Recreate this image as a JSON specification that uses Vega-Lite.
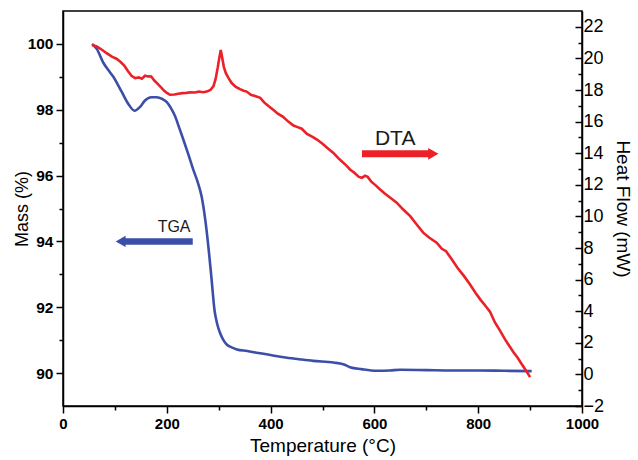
{
  "$schema": "https://vega.github.io/schema/vega-lite/v6.json",
  "width": 519,
  "height": 395,
  "autosize": {"type": "none"},
  "padding": {"left": 63, "top": 11, "right": 56, "bottom": 54},
  "config": {
    "view": {"stroke": "#000", "strokeWidth": 1.5},
    "axis": {"grid": false, "domainColor": "#000", "domainWidth": 1.5, "tickColor": "#000", "tickWidth": 1.5, "labelColor": "#000", "titleColor": "#000", "labelFont": "Liberation Sans", "titleFont": "Liberation Sans", "titleFontWeight": "normal", "labelOverlap": false, "labelFlush": false},
    "text": {"font": "Liberation Sans"}
  },
  "datasets": {
    "tga": [
      {"T": 56, "mass": 100.0}, {"T": 65, "mass": 99.85}, {"T": 78, "mass": 99.42}, {"T": 90, "mass": 99.15},
      {"T": 97, "mass": 99.0}, {"T": 105, "mass": 98.78}, {"T": 113, "mass": 98.55}, {"T": 125, "mass": 98.2},
      {"T": 138, "mass": 97.97}, {"T": 148, "mass": 98.08}, {"T": 158, "mass": 98.28}, {"T": 170, "mass": 98.38},
      {"T": 180, "mass": 98.38}, {"T": 192, "mass": 98.32}, {"T": 200, "mass": 98.23}, {"T": 208, "mass": 98.05},
      {"T": 216, "mass": 97.8}, {"T": 224, "mass": 97.45}, {"T": 232, "mass": 97.09}, {"T": 242, "mass": 96.62},
      {"T": 251, "mass": 96.18}, {"T": 260, "mass": 95.78}, {"T": 267, "mass": 95.37}, {"T": 274, "mass": 94.67},
      {"T": 280, "mass": 93.86}, {"T": 286, "mass": 92.9}, {"T": 292, "mass": 91.9}, {"T": 297, "mass": 91.5},
      {"T": 303, "mass": 91.2}, {"T": 310, "mass": 90.98}, {"T": 316, "mass": 90.86}, {"T": 325, "mass": 90.78},
      {"T": 335, "mass": 90.72}, {"T": 355, "mass": 90.67}, {"T": 373, "mass": 90.62}, {"T": 400, "mass": 90.55},
      {"T": 425, "mass": 90.48}, {"T": 455, "mass": 90.42}, {"T": 482, "mass": 90.37}, {"T": 521, "mass": 90.32},
      {"T": 540, "mass": 90.27}, {"T": 553, "mass": 90.18}, {"T": 575, "mass": 90.12}, {"T": 604, "mass": 90.07},
      {"T": 630, "mass": 90.08}, {"T": 650, "mass": 90.1}, {"T": 700, "mass": 90.09}, {"T": 750, "mass": 90.08},
      {"T": 800, "mass": 90.08}, {"T": 850, "mass": 90.07}, {"T": 903, "mass": 90.06}
    ],
    "dta": [
      {"T": 56, "hf": 20.85}, {"T": 65, "hf": 20.75}, {"T": 75, "hf": 20.55}, {"T": 84, "hf": 20.33},
      {"T": 95, "hf": 20.1}, {"T": 103, "hf": 19.98}, {"T": 110, "hf": 19.8}, {"T": 118, "hf": 19.55},
      {"T": 125, "hf": 19.2}, {"T": 132, "hf": 18.9}, {"T": 139, "hf": 18.75}, {"T": 146, "hf": 18.8},
      {"T": 152, "hf": 18.72}, {"T": 158, "hf": 18.9}, {"T": 164, "hf": 18.86}, {"T": 170, "hf": 18.85},
      {"T": 176, "hf": 18.6}, {"T": 181, "hf": 18.44}, {"T": 188, "hf": 18.2}, {"T": 195, "hf": 17.95},
      {"T": 201, "hf": 17.8}, {"T": 206, "hf": 17.7}, {"T": 215, "hf": 17.72}, {"T": 222, "hf": 17.76},
      {"T": 230, "hf": 17.8}, {"T": 238, "hf": 17.82}, {"T": 246, "hf": 17.86}, {"T": 254, "hf": 17.84},
      {"T": 262, "hf": 17.9}, {"T": 270, "hf": 17.86}, {"T": 277, "hf": 17.9}, {"T": 284, "hf": 18.0},
      {"T": 290, "hf": 18.25}, {"T": 294, "hf": 18.7}, {"T": 298, "hf": 19.4}, {"T": 301, "hf": 20.0},
      {"T": 304, "hf": 20.54}, {"T": 307, "hf": 20.0}, {"T": 310, "hf": 19.45}, {"T": 314, "hf": 19.05},
      {"T": 319, "hf": 18.75}, {"T": 325, "hf": 18.44}, {"T": 333, "hf": 18.2}, {"T": 341, "hf": 18.05},
      {"T": 348, "hf": 17.95}, {"T": 354, "hf": 17.9}, {"T": 362, "hf": 17.7}, {"T": 370, "hf": 17.62},
      {"T": 380, "hf": 17.5}, {"T": 388, "hf": 17.2}, {"T": 397, "hf": 16.95}, {"T": 405, "hf": 16.75},
      {"T": 414, "hf": 16.5}, {"T": 424, "hf": 16.3}, {"T": 434, "hf": 16.0}, {"T": 444, "hf": 15.75},
      {"T": 452, "hf": 15.65}, {"T": 460, "hf": 15.55}, {"T": 470, "hf": 15.22}, {"T": 480, "hf": 15.05},
      {"T": 490, "hf": 14.85}, {"T": 500, "hf": 14.6}, {"T": 510, "hf": 14.32}, {"T": 521, "hf": 14.02},
      {"T": 530, "hf": 13.7}, {"T": 540, "hf": 13.4}, {"T": 547, "hf": 13.18}, {"T": 553, "hf": 12.97},
      {"T": 562, "hf": 12.75}, {"T": 570, "hf": 12.5}, {"T": 576, "hf": 12.44}, {"T": 582, "hf": 12.58},
      {"T": 587, "hf": 12.5}, {"T": 594, "hf": 12.2}, {"T": 602, "hf": 11.98}, {"T": 611, "hf": 11.7},
      {"T": 620, "hf": 11.45}, {"T": 630, "hf": 11.2}, {"T": 643, "hf": 10.87}, {"T": 655, "hf": 10.45},
      {"T": 669, "hf": 10.02}, {"T": 680, "hf": 9.55}, {"T": 694, "hf": 8.97}, {"T": 706, "hf": 8.65},
      {"T": 720, "hf": 8.34}, {"T": 730, "hf": 7.95}, {"T": 738, "hf": 7.8}, {"T": 749, "hf": 7.29},
      {"T": 760, "hf": 6.75}, {"T": 772, "hf": 6.25}, {"T": 784, "hf": 5.7}, {"T": 795, "hf": 5.15},
      {"T": 805, "hf": 4.7}, {"T": 815, "hf": 4.3}, {"T": 823, "hf": 3.95}, {"T": 832, "hf": 3.3},
      {"T": 842, "hf": 2.77}, {"T": 852, "hf": 2.2}, {"T": 860, "hf": 1.8}, {"T": 868, "hf": 1.4},
      {"T": 876, "hf": 1.05}, {"T": 885, "hf": 0.6}, {"T": 893, "hf": 0.2}, {"T": 900, "hf": -0.17}
    ],
    "tgaNotes": [
      {"kind": "arrow", "T": 115, "T2": 250, "mass": 94.0},
      {"kind": "head", "T": 111, "mass": 94.0},
      {"kind": "label", "T": 214, "mass": 94.28, "label": "TGA"}
    ],
    "dtaNotes": [
      {"kind": "arrow", "T": 576, "T2": 710, "hf": 13.96},
      {"kind": "head", "T": 713.5, "hf": 13.96},
      {"kind": "label", "T": 640, "hf": 14.55, "label": "DTA"}
    ]
  },
  "encoding": {
    "x": {
      "field": "T", "type": "quantitative",
      "scale": {"domain": [0, 1000], "nice": false, "zero": false},
      "axis": {
        "title": "Temperature (°C)", "titleFontSize": 19, "titlePadding": 5,
        "values": [0, 100, 200, 300, 400, 500, 600, 700, 800, 900, 1000],
        "format": "d",
        "labelExpr": "datum.value % 200 === 0 ? datum.label : ''",
        "tickSize": {"condition": {"test": "datum.value % 200 === 0", "value": 7}, "value": 4},
        "labelFontSize": 15, "labelFontWeight": "bold", "labelPadding": 3
      }
    }
  },
  "layer": [
    {
      "encoding": {
        "y": {
          "field": "mass", "type": "quantitative",
          "scale": {"domain": [89, 101], "nice": false, "zero": false},
          "axis": {
            "orient": "left", "title": "Mass (%)", "titleFontSize": 18, "titlePadding": -4,
            "values": [90, 91, 92, 93, 94, 95, 96, 97, 98, 99, 100],
            "labelExpr": "datum.value % 2 === 0 ? datum.label : ''",
            "tickSize": {"condition": {"test": "datum.value % 2 === 0", "value": 7}, "value": 4},
            "labelFontSize": 15.5, "labelFontWeight": "bold", "labelPadding": 3
          }
        }
      },
      "layer": [
        {"data": {"name": "tga"}, "mark": {"type": "line", "color": "#3b4ea8", "strokeWidth": 2.6, "interpolate": "monotone"}},
        {"data": {"name": "tgaNotes"}, "transform": [{"filter": "datum.kind === 'arrow'"}], "mark": {"type": "rule", "color": "#3b4ea8", "strokeWidth": 6.5, "strokeCap": "butt"}, "encoding": {"x2": {"field": "T2"}}},
        {"data": {"name": "tgaNotes"}, "transform": [{"filter": "datum.kind === 'head'"}], "mark": {"type": "point", "shape": "triangle-left", "filled": true, "size": 130, "color": "#3b4ea8", "opacity": 1, "strokeWidth": 0}},
        {"data": {"name": "tgaNotes"}, "transform": [{"filter": "datum.kind === 'label'"}], "mark": {"type": "text", "fontSize": 16, "color": "#1a1a1a", "align": "center", "baseline": "alphabetic"}, "encoding": {"text": {"field": "label"}}}
      ]
    },
    {
      "encoding": {
        "y": {
          "field": "hf", "type": "quantitative",
          "scale": {"domain": [-2, 23], "nice": false, "zero": false},
          "axis": {
            "orient": "right", "title": "Heat Flow (mW)", "titleFontSize": 19, "titlePadding": 9,
            "values": [-2, -1, 0, 1, 2, 3, 4, 5, 6, 7, 8, 9, 10, 11, 12, 13, 14, 15, 16, 17, 18, 19, 20, 21, 22],
            "labelExpr": "datum.value % 2 === 0 ? datum.label : ''",
            "tickSize": {"condition": {"test": "datum.value % 2 === 0", "value": -7}, "value": -4},
            "labelFontSize": 18, "labelPadding": 8
          }
        }
      },
      "layer": [
        {"data": {"name": "dta"}, "mark": {"type": "line", "color": "#ec2027", "strokeWidth": 2.6}},
        {"data": {"name": "dtaNotes"}, "transform": [{"filter": "datum.kind === 'arrow'"}], "mark": {"type": "rule", "color": "#ec2027", "strokeWidth": 7, "strokeCap": "butt"}, "encoding": {"x2": {"field": "T2"}}},
        {"data": {"name": "dtaNotes"}, "transform": [{"filter": "datum.kind === 'head'"}], "mark": {"type": "point", "shape": "triangle-right", "filled": true, "size": 140, "color": "#ec2027", "opacity": 1, "strokeWidth": 0}},
        {"data": {"name": "dtaNotes"}, "transform": [{"filter": "datum.kind === 'label'"}], "mark": {"type": "text", "fontSize": 21, "color": "#1a1a1a", "align": "center", "baseline": "alphabetic"}, "encoding": {"text": {"field": "label"}}}
      ]
    }
  ],
  "resolve": {"scale": {"y": "independent"}}
}
